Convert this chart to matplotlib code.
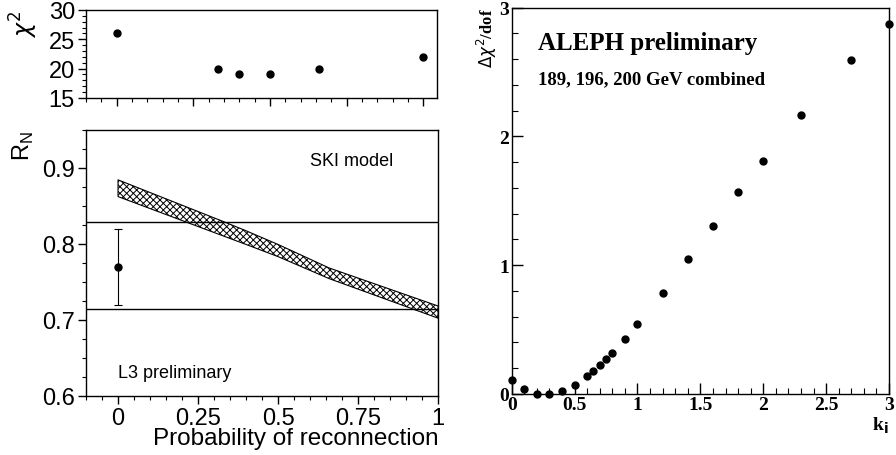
import numpy as np
import matplotlib
matplotlib.use("Agg")
import matplotlib.pyplot as plt
from matplotlib.ticker import MultipleLocator

# ---------------------------------------------------------------
# L3: chi2 and R_N versus reconnection probability
# ---------------------------------------------------------------
p_chi2 = [0.0, 0.33, 0.40, 0.50, 0.66, 1.0]
chi2 = [26, 20, 19, 19, 20, 22]

# SKI model band (lower / upper edge)
p_band = [0.0, 0.33, 0.40, 0.50, 0.66, 1.0]
band_lo = [0.862, 0.810, 0.799, 0.783, 0.754, 0.702]
band_hi = [0.884, 0.829, 0.817, 0.799, 0.768, 0.718]

# measurement
p_meas = [0.0]
rn_meas = [0.77]
rn_err_lo = [0.05]
rn_err_hi = [0.05]
rn_meas_lo_line = 0.714
rn_meas_hi_line = 0.828

# ---------------------------------------------------------------
# ALEPH: delta chi2 / dof versus k_i
# ---------------------------------------------------------------
k_i = [0.0, 0.1, 0.2, 0.3, 0.4, 0.5, 0.6, 0.65, 0.7, 0.75, 0.8, 0.9, 1.0,
       1.2, 1.4, 1.6, 1.8, 2.0, 2.3, 2.7, 3.0]
dchi2 = [0.11, 0.035, 0.0, 0.0, 0.02, 0.07, 0.14, 0.18, 0.22, 0.27, 0.32,
         0.425, 0.54, 0.785, 1.045, 1.305, 1.565, 1.81, 2.165, 2.59, 2.87]

sans = ["Liberation Sans", "DejaVu Sans"]
serif = ["Liberation Serif", "DejaVu Serif"]

plt.rcParams["hatch.linewidth"] = 0.7

fig = plt.figure(figsize=(8.96, 4.56), dpi=100)

# ---- top left: chi2 ----
ax1 = fig.add_axes([0.096, 0.783, 0.392, 0.193])
ax1.plot(p_chi2, chi2, "o", color="black", ms=5)
ax1.set_xlim(-0.1, 1.045)
ax1.set_ylim(15, 30)
ax1.set_yticks([15, 20, 25, 30])
ax1.yaxis.set_minor_locator(MultipleLocator(1))
ax1.set_xticks([0, 0.25, 0.5, 0.75, 1.0])
ax1.xaxis.set_minor_locator(MultipleLocator(0.05))
ax1.set_xticklabels([])
ax1.tick_params(which="major", direction="out", length=6, width=1.0, labelsize=17,
                pad=2)
ax1.tick_params(which="minor", direction="out", length=3, width=0.8)
for lab in ax1.get_yticklabels():
    lab.set_family(sans)
ax1.set_ylabel(r"$\chi^2$", fontsize=17, loc="top", labelpad=6)

# ---- bottom left: R_N ----
ax2 = fig.add_axes([0.096, 0.130, 0.393, 0.5834])
ax2.fill_between(p_band, band_lo, band_hi, facecolor="none", edgecolor="black",
                 hatch="xxxxx", linewidth=0.8)
ax2.axhline(rn_meas_hi_line, color="black", lw=1.0)
ax2.axhline(rn_meas_lo_line, color="black", lw=1.0)
ax2.errorbar(p_meas, rn_meas, yerr=[rn_err_lo, rn_err_hi], fmt="o", color="black",
             ms=5, capsize=3, elinewidth=0.8, capthick=0.8)
ax2.set_xlim(-0.1, 1.0)
ax2.set_ylim(0.6, 0.95)
ax2.set_xticks([0, 0.25, 0.5, 0.75, 1.0])
ax2.set_xticklabels(["0", "0.25", "0.5", "0.75", "1"])
ax2.set_yticks([0.6, 0.7, 0.8, 0.9])
ax2.xaxis.set_minor_locator(MultipleLocator(0.05))
ax2.yaxis.set_minor_locator(MultipleLocator(0.025))
ax2.tick_params(which="major", direction="out", length=6, width=1.0, labelsize=17,
                pad=2)
ax2.tick_params(which="minor", direction="out", length=3, width=0.8)
for lab in ax2.get_xticklabels() + ax2.get_yticklabels():
    lab.set_family(sans)
ax2.set_ylabel(r"R$_\mathregular{N}$", fontsize=17, loc="top", family=sans, labelpad=4)
ax2.set_xlabel("Probability of reconnection", fontsize=17.5, loc="right", family=sans,
               labelpad=-1)
ax2.text(0.6, 0.909, "SKI model", fontsize=13, family=sans, va="center")
ax2.text(0.0, 0.631, "L3 preliminary", fontsize=13, family=sans, va="center")

# ---- right: ALEPH ----
ax3 = fig.add_axes([0.5711, 0.1344, 0.4211, 0.8466])
ax3.plot(k_i, dchi2, "o", color="black", ms=5, clip_on=False)
ax3.set_xlim(0, 3)
ax3.set_ylim(0, 3)
ax3.set_xticks([0, 0.5, 1, 1.5, 2, 2.5, 3])
ax3.set_xticklabels(["0", "0.5", "1", "1.5", "2", "2.5", "3"])
ax3.set_yticks([0, 1, 2, 3])
ax3.xaxis.set_minor_locator(MultipleLocator(0.1))
ax3.yaxis.set_minor_locator(MultipleLocator(0.2))
ax3.tick_params(which="major", direction="in", length=8, width=1.0, labelsize=14,
                pad=2)
ax3.tick_params(which="minor", direction="in", length=4, width=0.8)
for lab in ax3.get_xticklabels() + ax3.get_yticklabels():
    lab.set_family(serif)
    lab.set_fontweight("bold")
ax3.set_ylabel(r"$\Delta\chi^2$/dof", fontsize=12, loc="top", family=serif,
               fontweight="bold", labelpad=0)
ax3.set_xlabel(r"k$_\mathbf{i}$", fontsize=14, loc="right", family=serif,
               fontweight="bold", labelpad=1)
ax3.text(0.07, 0.91, "ALEPH preliminary", transform=ax3.transAxes, fontsize=18,
         family=serif, fontweight="bold", va="center")
ax3.text(0.07, 0.815, "189, 196, 200 GeV combined", transform=ax3.transAxes,
         fontsize=13.5, family=serif, fontweight="bold", va="center")

for ax in (ax1, ax2, ax3):
    for s in ax.spines.values():
        s.set_linewidth(1.0)

fig.savefig("out.png", dpi=100)
